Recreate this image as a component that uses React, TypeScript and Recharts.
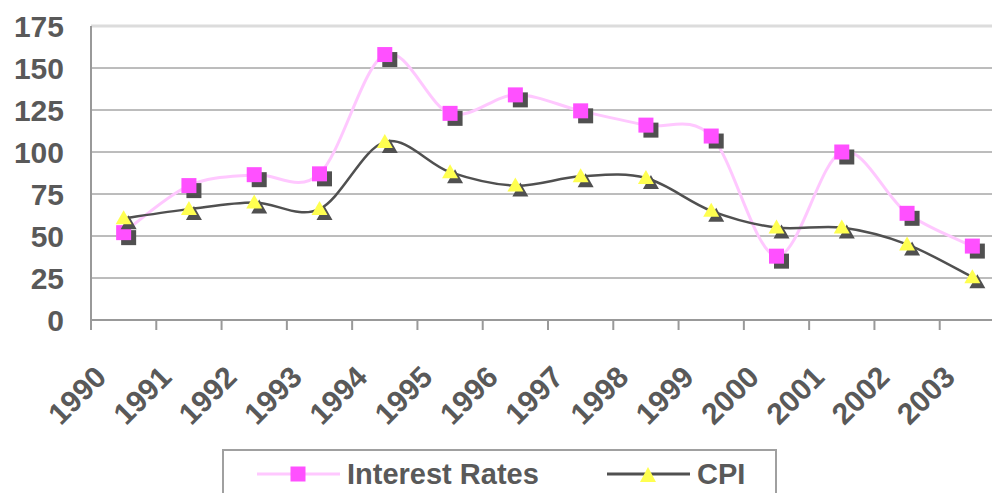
import React from "react";
import {
  LineChart,
  Line,
  XAxis,
  YAxis,
  CartesianGrid,
  ReferenceLine,
  Legend,
} from "recharts";

const YEARS = [
  "1990", "1991", "1992", "1993", "1994", "1995", "1996",
  "1997", "1998", "1999", "2000", "2001", "2002", "2003",
];
const INTEREST_RATES = [52, 80, 86.5, 87, 158, 123, 134, 124.5, 116, 109.5, 38, 100, 63.5, 44];
const CPI = [60.5, 66, 70, 66, 106, 88, 80, 85.5, 84.5, 65, 55, 55, 45, 25.5];
const Y_TICKS = [0, 25, 50, 75, 100, 125, 150, 175];
const SERIES_NAMES = ["Interest Rates", "CPI"];

const FONT = '"Liberation Sans", Arial, sans-serif';
const TEXT = "#595959";
const PINK = "#ff50ff";
const PINK_LINE = "#ffc8ff";
const YELLOW = "#ffff50";
const DARK = "#505050";

// categories sit between the tick marks, so each point lands at index + 0.5
const data = YEARS.map((year, i) => ({
  pos: i + 0.5,
  year,
  rate: INTEREST_RATES[i],
  cpi: CPI[i],
}));

// excel-style smoothing (catmull-rom through every point)
function smoothCurve(context: any) {
  let pts: [number, number][] = [];
  return {
    areaStart() {},
    areaEnd() {},
    lineStart() {
      pts = [];
    },
    point(x: number, y: number) {
      pts.push([+x, +y]);
    },
    lineEnd() {
      if (!pts.length) return;
      context.moveTo(pts[0][0], pts[0][1]);
      for (let i = 0; i < pts.length - 1; i++) {
        const p0 = pts[i - 1] || pts[i];
        const p1 = pts[i];
        const p2 = pts[i + 1];
        const p3 = pts[i + 2] || p2;
        context.bezierCurveTo(
          p1[0] + (p2[0] - p0[0]) / 6,
          p1[1] + (p2[1] - p0[1]) / 6,
          p2[0] - (p3[0] - p1[0]) / 6,
          p2[1] - (p3[1] - p1[1]) / 6,
          p2[0],
          p2[1]
        );
      }
    },
  };
}

function SquareDot({ cx, cy, index }: any) {
  if (cx == null || cy == null) return null;
  return (
    <g key={`sq-${index}`}>
      <rect x={cx - 7.5 + 5} y={cy - 7.5 + 5} width={15} height={15} fill={DARK} />
      <rect x={cx - 7.5} y={cy - 7.5} width={15} height={15} fill={PINK} />
    </g>
  );
}

function TriangleDot({ cx, cy, index }: any) {
  if (cx == null || cy == null) return null;
  const tri = (dx: number, dy: number) =>
    `${cx + dx},${cy - 8 + dy} ${cx + 8 + dx},${cy + 6 + dy} ${cx - 8 + dx},${cy + 6 + dy}`;
  return (
    <g key={`tri-${index}`}>
      <polygon points={tri(5, 5)} fill={DARK} />
      <polygon points={tri(0, 0)} fill={YELLOW} />
    </g>
  );
}

function YearTick({ x, y, payload }: any) {
  const ax = x + 17;
  const ay = y + 47;
  return (
    <text
      x={ax}
      y={ay}
      transform={`rotate(-45 ${ax} ${ay})`}
      textAnchor="end"
      fontFamily={FONT}
      fontWeight="bold"
      fontSize={30}
      fill={TEXT}
    >
      {YEARS[payload.value]}
    </text>
  );
}

function ChartLegend({ payload }: any) {
  const items = [...(payload || [])].sort(
    (a: any, b: any) => SERIES_NAMES.indexOf(a.value) - SERIES_NAMES.indexOf(b.value)
  );
  return (
    <svg width={556} height={60} style={{ display: "block" }}>
      <rect x={1} y={1} width={553} height={80} fill="#fff" stroke="#a0a0a0" strokeWidth={2} />
      {items.map((item: any, i: number) => {
        const left = i === 0 ? 35 : 385;
        const mid = left + 41;
        return (
          <g key={item.value}>
            <line
              x1={left}
              x2={left + 83}
              y1={25}
              y2={25}
              stroke={i === 0 ? PINK_LINE : DARK}
              strokeWidth={3}
            />
            {i === 0 ? (
              <rect x={mid - 7.5} y={17.5} width={15} height={15} fill={PINK} />
            ) : (
              <polygon points={`${mid},18 ${mid + 8},33 ${mid - 8},33`} fill={YELLOW} />
            )}
            <text
              x={left + 90}
              y={35}
              fontFamily={FONT}
              fontWeight="bold"
              fontSize={29}
              fill={TEXT}
            >
              {item.value}
            </text>
          </g>
        );
      })}
    </svg>
  );
}

export default function App() {
  return (
    <div
      style={{
        position: "fixed",
        left: 0,
        top: 0,
        width: 992,
        height: 493,
        overflow: "hidden",
        background: "#fff",
      }}
    >
      <LineChart
        width={1010}
        height={493}
        data={data}
        margin={{ top: 26, right: 5, left: 0, bottom: 0 }}
      >
        <CartesianGrid vertical={false} stroke="#7a7a7a" strokeWidth={1} />
        <ReferenceLine y={175} stroke="#dcdcdc" strokeWidth={3} />
        <XAxis
          type="number"
          dataKey="pos"
          domain={[0, 14]}
          ticks={YEARS.map((_, i) => i)}
          interval={0}
          height={173}
          tickSize={10}
          stroke="#999"
          strokeWidth={2}
          tick={<YearTick />}
        />
        <YAxis
          domain={[0, 175]}
          ticks={Y_TICKS}
          interval={0}
          width={91}
          tickLine={false}
          tickSize={0}
          tickMargin={27}
          stroke="#999"
          strokeWidth={2}
          tick={{ fontFamily: FONT, fontWeight: "bold", fontSize: 30, fill: TEXT }}
        />
        <Legend
          layout="vertical"
          align="center"
          verticalAlign="middle"
          wrapperStyle={{ left: 222, top: 449, width: 556, height: 60 }}
          content={<ChartLegend />}
        />
        <Line
          name="Interest Rates"
          dataKey="rate"
          type={smoothCurve as any}
          stroke={PINK_LINE}
          strokeWidth={3}
          dot={(p: any) => <SquareDot key={`r-${p.index}`} {...p} />}
          activeDot={false}
          isAnimationActive={false}
        />
        <Line
          name="CPI"
          dataKey="cpi"
          type={smoothCurve as any}
          stroke={DARK}
          strokeWidth={2.5}
          dot={(p: any) => <TriangleDot key={`c-${p.index}`} {...p} />}
          activeDot={false}
          isAnimationActive={false}
        />
      </LineChart>
    </div>
  );
}
